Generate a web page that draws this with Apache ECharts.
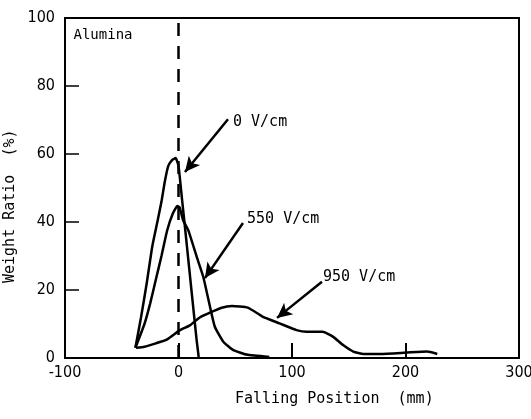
<!DOCTYPE html>
<html>
<head>
<meta charset="utf-8">
<script src="https://cdn.jsdelivr.net/npm/echarts@6/dist/echarts.min.js"></script>
<style>
  html, body { margin: 0; padding: 0; background: #fff; }
  #chart { width: 531px; height: 419px; }
</style>
</head>
<body>
<div id="chart"></div>
<script>
// Weight ratio distribution of alumina particles vs. falling position
const xTicks = [-100, 0, 100, 200, 300];
const yTicks = [0, 20, 40, 60, 80, 100];

// Falling position (mm), weight ratio (%) for each field strength
const curve0 = [
  [-38, 3], [-33, 12], [-28, 22], [-23, 33], [-18, 41], [-15, 46],
  [-12, 52], [-9, 56.5], [-5.5, 58.3], [-2.5, 58.8], [0, 56.5],
  [3, 47], [6, 37.5], [10, 24.5], [13, 14.8], [16, 5.2], [17.8, 0.3]
];
const curve550 = [
  [-38, 3], [-30, 10], [-25, 16], [-20, 23], [-15, 30], [-10, 37.5],
  [-5, 42.5], [-1, 44.7], [1, 44.3], [4, 40.6], [8.6, 37.6], [16, 29.8],
  [21.8, 23.9], [27.8, 15], [32, 9.2], [39.5, 4.8], [48, 2.4],
  [60, 1], [80, 0.3]
];
const curve950 = [
  [-37.5, 3], [-30, 3.3], [-20, 4.3], [-10.4, 5.4], [1.3, 8.2], [10, 9.6],
  [19, 12], [28, 13.4], [38, 14.8], [47, 15.3], [61, 14.8], [74, 12.2],
  [89, 10.2], [104, 8.2], [113, 7.7], [127, 7.7], [136, 6.3], [145, 3.8],
  [154, 1.9], [163, 1.2], [178, 1.2], [201, 1.6], [219, 1.9], [228, 1.2]
];

// Curve captions: text and anchor (left edge, middle) in data units
const captionTexts = ['0 V/cm', '550 V/cm', '950 V/cm'];
const captionAnchors = [[48, 69.4], [60.4, 40.9], [127.3, 23.8]];
// Leader arrows: from near the caption to the curve
const arrowFrom = [[43.6, 70.2], [56.8, 39.7], [126.4, 22.4]];
const arrowTo = [[5.7, 54.7], [23.3, 23.5], [86.8, 11.8]];
const materialLabel = 'Alumina';
const materialAnchor = [-92.5, 95];

const monoFont = "'DejaVu Sans Mono', 'Liberation Mono', monospace";
const narrowFont = "'Liberation Sans Narrow', 'DejaVu Sans Condensed', 'Liberation Sans', sans-serif";

const chart = echarts.init(document.getElementById('chart'), null, { renderer: 'canvas' });

function curveSeries(name, data) {
  return {
    name: name,
    type: 'line',
    data: data,
    smooth: 0.15,
    symbol: 'none',
    lineStyle: { color: '#000', width: 2.5 },
    z: 3
  };
}

const captionPoints = captionTexts.map((t, i) => ({
  coord: captionAnchors[i],
  value: t,
  label: { formatter: t }
}));
captionPoints.push({
  coord: materialAnchor,
  value: materialLabel,
  label: { formatter: materialLabel, fontSize: 14 }
});

const arrowLines = arrowFrom.map((p, i) => [
  { coord: p },
  { coord: arrowTo[i] }
]);

const option = {
  animation: false,
  backgroundColor: '#fff',
  grid: {
    left: 65, right: 12, top: 18, bottom: 61,
    show: true, borderColor: '#000', borderWidth: 2,
    outerBoundsMode: 'none'
  },
  xAxis: {
    type: 'value',
    min: xTicks[0], max: xTicks[xTicks.length - 1], interval: 100,
    axisLine: { show: true, onZero: false, lineStyle: { color: '#000', width: 2 } },
    axisTick: { show: true, inside: true, length: 15, lineStyle: { color: '#000', width: 2 } },
    axisLabel: {
      color: '#000', fontSize: 16, fontFamily: narrowFont, margin: 7,
      formatter: v => (v < 0 ? '-' + Math.abs(v) : String(v))
    },
    splitLine: { show: false }
  },
  yAxis: {
    type: 'value',
    min: yTicks[0], max: yTicks[yTicks.length - 1], interval: 20,
    axisLine: { show: true, onZero: false, lineStyle: { color: '#000', width: 2 } },
    axisTick: { show: true, inside: true, length: 14, lineStyle: { color: '#000', width: 1.5 } },
    axisLabel: { color: '#000', fontSize: 16, fontFamily: narrowFont, margin: 10 },
    splitLine: { show: false }
  },
  series: [
    Object.assign(curveSeries('0 V/cm', curve0), {
      markLine: {
        silent: true,
        symbol: ['none', 'none'],
        label: { show: false },
        lineStyle: { color: '#000', width: 2.5, type: [13, 10] },
        data: [{ xAxis: 0 }]
      }
    }),
    Object.assign(curveSeries('550 V/cm', curve550), {
      markLine: {
        silent: true,
        symbol: ['none', 'arrow'],
        symbolSize: [11, 15],
        label: { show: false },
        lineStyle: { color: '#000', width: 2.5, type: 'solid' },
        data: arrowLines
      },
      markPoint: {
        silent: true,
        symbol: 'circle',
        symbolSize: 0,
        label: {
          show: true, position: 'right', distance: 0,
          color: '#000', fontSize: 15, fontFamily: monoFont
        },
        data: captionPoints
      }
    }),
    curveSeries('950 V/cm', curve950)
  ],
  graphic: [
    {
      type: 'text', left: 235, top: 392,
      style: { text: 'Falling Position  (mm)', fill: '#000', font: '15px ' + monoFont }
    },
    {
      type: 'text', x: 10, y: 283, rotation: Math.PI / 2,
      style: { text: 'Weight Ratio  (%)', fill: '#000', font: '15px ' + monoFont, textAlign: 'left', textVerticalAlign: 'middle' }
    }
  ]
};

chart.setOption(option);
</script>
</body>
</html>
